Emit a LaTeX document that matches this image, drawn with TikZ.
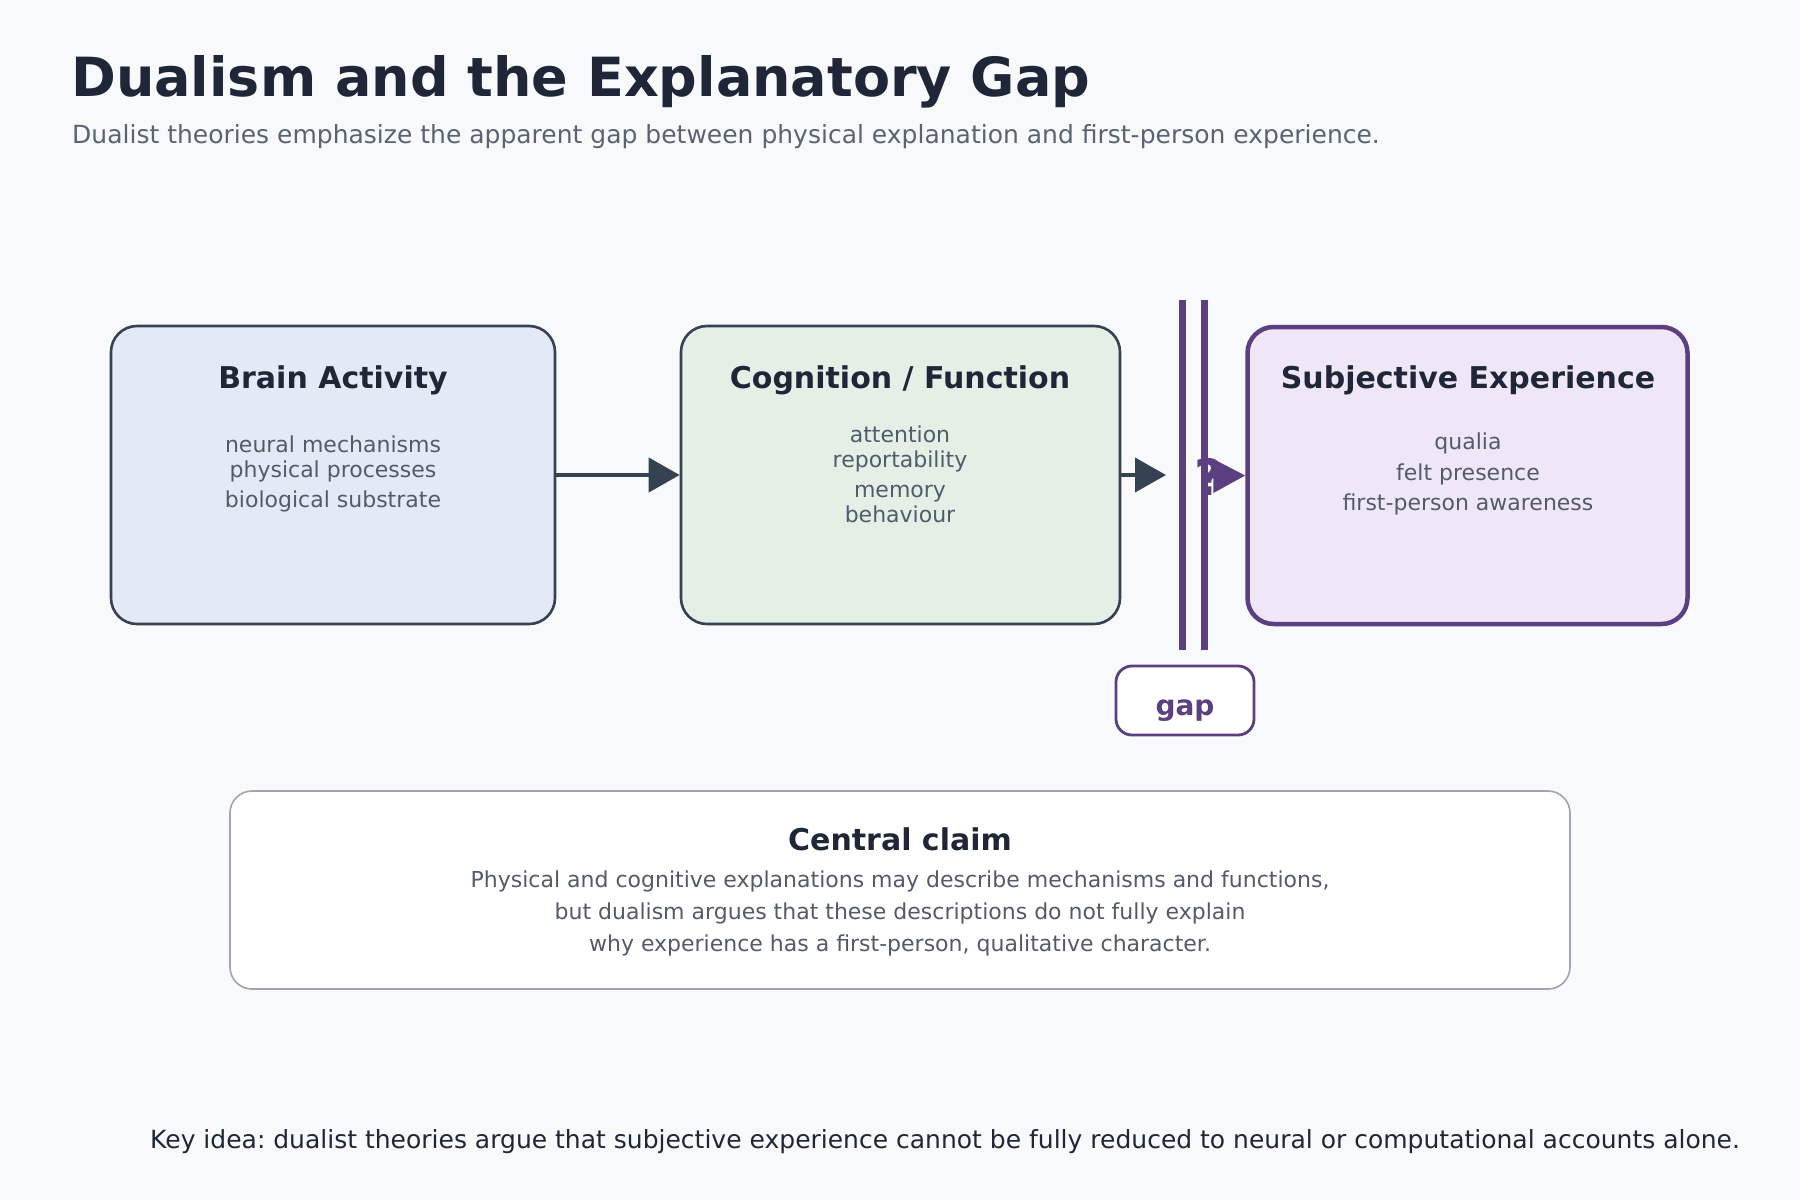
\documentclass[tikz,border=0pt]{standalone}
\usepackage{fontspec}
\setmainfont{DejaVu Sans}
\usetikzlibrary{arrows.meta}
\frenchspacing
\definecolor{bgc}{HTML}{F7F9FB}
\definecolor{ink}{HTML}{1E2638}
\definecolor{subc}{HTML}{5A6374}
\definecolor{bodyc}{HTML}{525B6C}
\definecolor{edgec}{HTML}{364152}
\definecolor{fillA}{HTML}{E3EAF6}
\definecolor{fillB}{HTML}{E4EFE6}
\definecolor{fillC}{HTML}{EFE7F7}
\definecolor{purp}{HTML}{5B3F80}
\definecolor{claimc}{HTML}{A0A3B1}
\tikzset{
  panel/.style={draw=edgec, line width=2.6pt, rounded corners=26pt, inner sep=0pt},
  paneltitle/.style={anchor=base, text=ink, font=\fontsize{30}{36}\selectfont\bfseries, inner sep=0pt},
  panelbody/.style={anchor=base, text=bodyc, font=\fontsize{22}{26}\selectfont, inner sep=0pt},
  claimbody/.style={anchor=base, text=bodyc, font=\fontsize{22}{26}\selectfont, inner sep=0pt},
  flow/.style={draw=edgec, line width=4pt, -{Triangle[length=31pt,width=34pt]}},
}
\begin{document}
\begin{tikzpicture}[x=1pt,y=-1pt]
\fill[bgc] (0,0) rectangle (1800,1200);
\useasboundingbox (0,0) rectangle (1800,1200);

\node[anchor=base west, inner sep=0pt, text=ink, font=\fontsize{54}{60}\selectfont\bfseries] (title) at (71,96) {Dualism and the Explanatory Gap};
\node[anchor=base west, inner sep=0pt, text=subc, font=\fontsize{25}{30}\selectfont] (subtitle) at (72,143) {Dualist theories emphasize the apparent gap between physical explanation and first-person experience.};

% panels
\node[panel, fill=fillA, minimum width=444pt, minimum height=298pt] (brain) at (333,475) {};
\node[panel, fill=fillB, minimum width=439pt, minimum height=298pt] (cog) at (900.5,475) {};
\node[panel, draw=purp, line width=4.5pt, fill=fillC, minimum width=440pt, minimum height=297pt] (subj) at (1467.5,475.5) {};

\node[paneltitle] (brainT) at (333,388) {Brain Activity};
\node[panelbody] (b1) at (333,452) {neural mechanisms};
\node[panelbody] (b2) at (333,477) {physical processes};
\node[panelbody] (b3) at (333,507) {biological substrate};

\node[paneltitle] (cogT) at (900,388) {Cognition / Function};
\node[panelbody] (c1) at (900,442) {attention};
\node[panelbody] (c2) at (900,467) {reportability};
\node[panelbody] (c3) at (900,497) {memory};
\node[panelbody] (c4) at (900,522) {behaviour};

\node[paneltitle] (subjT) at (1468,388) {Subjective Experience};
\node[panelbody] (s1) at (1468,449) {qualia};
\node[panelbody] (s2) at (1468,480) {felt presence};
\node[panelbody] (s3) at (1468,510) {first-person awareness};

% connectors
\coordinate (tipB) at (1166,475);
\draw[flow] (brain.east) -- (cog.west);
\draw[flow] (cog.east) -- (tipB);

% gap barrier
\coordinate (g1t) at (1182.5,300);
\coordinate (g1b) at (1182.5,650);
\coordinate (g2t) at (1204.5,300);
\coordinate (g2b) at (1204.5,650);
\draw[purp, line width=7pt] (g1t) -- (g1b);
\draw[purp, line width=7pt] (g2t) -- (g2b);

\node[anchor=base, inner sep=0pt, text=purp, font=\fontsize{50}{56}\selectfont\bfseries] (qm) at (1209,495) {?};
\coordinate (qstart) at (1206,476);
\draw[purp, line width=4pt, -{Triangle[length=32pt,width=33pt]}] (qstart) -- (subj.west);

\node[draw=purp, line width=2.8pt, fill=white, rounded corners=16pt, minimum width=138pt, minimum height=69pt, inner sep=0pt] (gapbox) at (1185,700.5) {};
\node[anchor=base, inner sep=0pt, text=purp, font=\fontsize{28}{32}\selectfont\bfseries] (gapT) at (1185,715) {gap};

% central claim
\node[draw=claimc, line width=1.6pt, fill=white, rounded corners=22pt, minimum width=1340pt, minimum height=198pt, inner sep=0pt] (claim) at (900,890) {};
\node[anchor=base, inner sep=0pt, text=ink, font=\fontsize{30}{34}\selectfont\bfseries] (claimT) at (900,850) {Central claim};
\node[claimbody] (cl1) at (900,887) {Physical and cognitive explanations may describe mechanisms and functions,};
\node[claimbody] (cl2) at (900,919) {but dualism argues that these descriptions do not fully explain};
\node[claimbody] (cl3) at (900,951) {why experience has a first-person, qualitative character.};

\node[anchor=base west, inner sep=0pt, text=ink, font=\fontsize{25}{30}\selectfont] (key) at (150,1148) {Key idea: dualist theories argue that subjective experience cannot be fully reduced to neural or computational accounts alone.};
\end{tikzpicture}
\end{document}
